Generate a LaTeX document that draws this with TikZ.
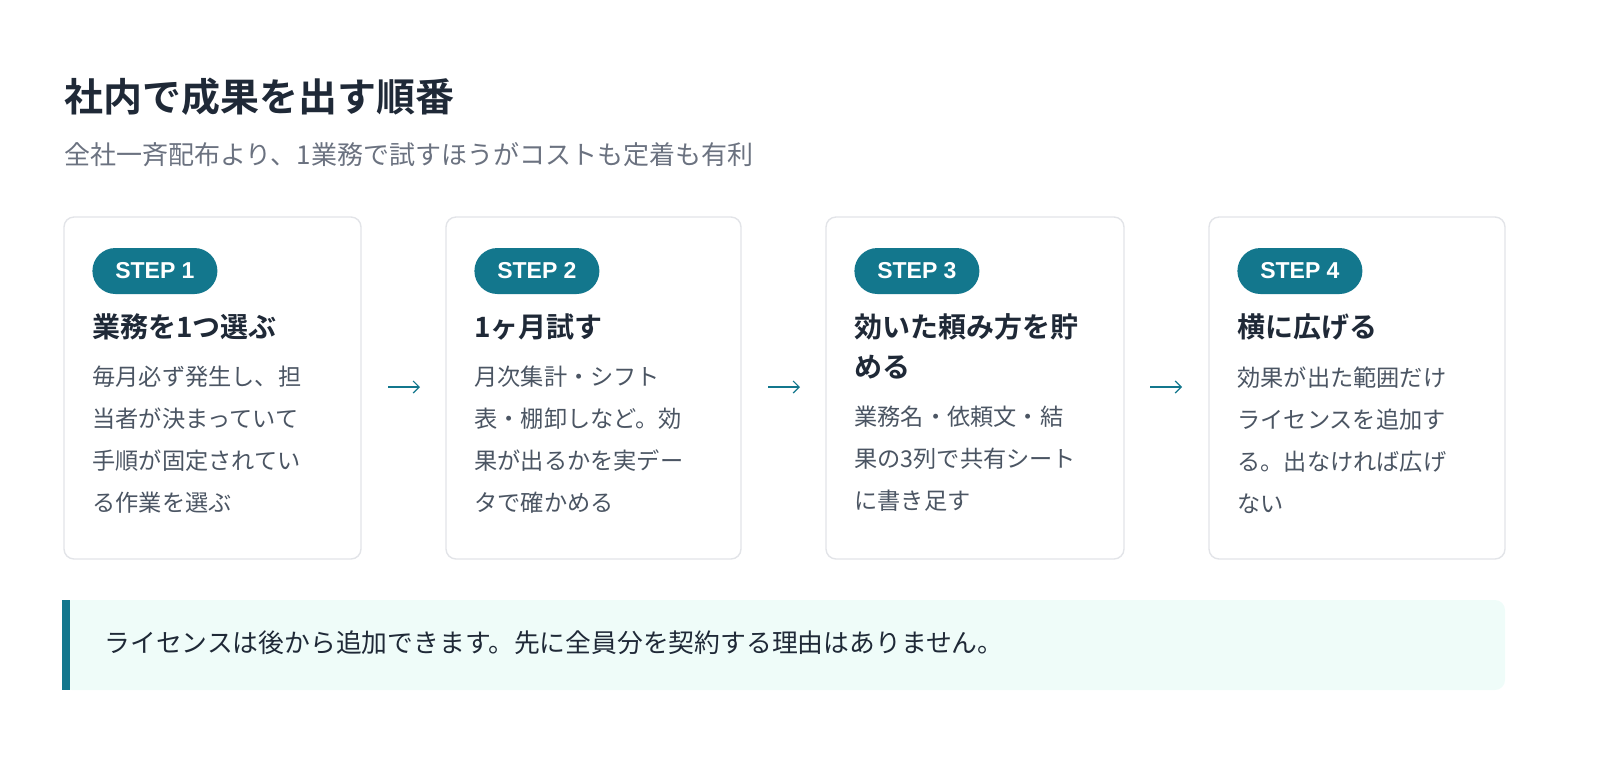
\documentclass[tikz,border=0pt]{standalone}
\usepackage{fontspec}
\setmainfont{Noto Sans CJK JP}
\newfontfamily\bfjp{Noto Sans CJK JP Bold}
\newfontfamily\badgefont{Liberation Sans}
\usetikzlibrary{positioning,arrows.meta}
\definecolor{teal1}{HTML}{13778D}
\definecolor{ink}{HTML}{1F2937}
\definecolor{body}{HTML}{4B5563}
\definecolor{sub}{HTML}{6B7280}
\definecolor{edge}{HTML}{E2E4E8}
\definecolor{note}{HTML}{EFFCF9}
\tikzset{
  card/.style={draw=edge, line width=0.7pt, rounded corners=5pt, fill=white},
  badge/.style={fill=teal1, rounded corners=11.5pt, text=white, font=\fontsize{11.5}{11.5}\selectfont\badgefont\bfseries,
    minimum height=23pt, minimum width=62.5pt, inner sep=0pt},
  head/.style={anchor=north west, align=left, text=ink, font=\fontsize{14}{20}\selectfont\bfjp, inner sep=0pt},
  txt/.style={anchor=north west, align=left, text=body, font=\fontsize{11.6}{21}\selectfont, inner sep=0pt},
  next/.style={teal1, line width=0.6pt, -{Straight Barb[length=3pt]}}
}
\begin{document}
\begin{tikzpicture}[x=0.5pt,y=-0.5pt]
  \useasboundingbox (0,0) rectangle (1600,768);
  \node[anchor=west, inner sep=0pt, text=ink, font=\fontsize{19.5}{19.5}\selectfont\bfjp] (title) at (64,97) {社内で成果を出す順番};
  \node[anchor=west, inner sep=0pt, text=sub, font=\fontsize{13}{13}\selectfont] (subtitle) at (64,155) {全社一斉配布より、1業務で試すほうがコストも定着も有利};
  % cards
  \foreach \i/\x/\w/\hd/\bd/\by in {
    1/64/297/{業務を1つ選ぶ}/{毎月必ず発生し、担\\当者が決まっていて\\手順が固定されてい\\る作業を選ぶ}/366,
    2/446/295/{1ヶ月試す}/{月次集計・シフト\\表・棚卸しなど。効\\果が出るかを実デー\\タで確かめる}/366,
    3/826/298/{効いた頼み方を貯\\める}/{業務名・依頼文・結\\果の3列で共有シート\\に書き足す}/406,
    4/1209/296/{横に広げる}/{効果が出た範囲だけ\\ライセンスを追加す\\る。出なければ広げ\\ない}/366} {
    \draw[card] (\x,217) rectangle ++(\w,342);
    \node[badge, anchor=west] (b\i) at (\x+28,271) {STEP \i};
    \node[head] (h\i) at (\x+28,313) {\hd};
    \node[txt] (t\i) at (\x+28,\by) {\bd};
  }
  % arrows
  \foreach \a/\x in {1/388,2/768,3/1150} {
    \coordinate (s\a) at (\x,387);
    \coordinate (e\a) at (\x+32,387);
    \draw[next] (s\a) -- (e\a);
  }
  % note
  \fill[note, rounded corners=5pt] (62,600) rectangle (1505,690);
  \fill[teal1] (62,600) rectangle (70,690);
  \node[anchor=west, inner sep=0pt, text=ink, font=\fontsize{12.9}{12.9}\selectfont] (notetext) at (104,643) {ライセンスは後から追加できます。先に全員分を契約する理由はありません。};
\end{tikzpicture}
\end{document}
